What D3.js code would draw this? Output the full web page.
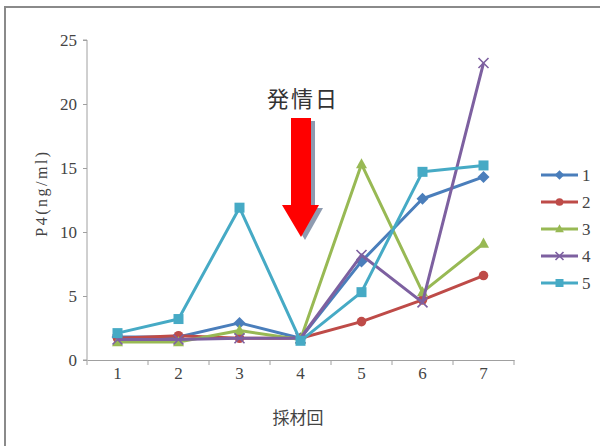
<!DOCTYPE html>
<html><head><meta charset="utf-8">
<script src="https://cdn.jsdelivr.net/npm/d3@7"></script>
<style>body{margin:0;background:#fff}svg{display:block}</style>
</head><body>
<svg id="c" width="600" height="446"></svg>
<script>
const categories = ["1","2","3","4","5","6","7"];
const seriesNames = ["1","2","3","4","5"];
const s1 = [1.8, 1.8, 2.9, 1.7, 7.7, 12.6, 14.3];
const s2 = [1.7, 1.9, 1.7, 1.7, 3.0, 4.7, 6.6];
const s3 = [1.4, 1.4, 2.3, 1.6, 15.3, 5.3, 9.1];
const s4 = [1.6, 1.6, 1.7, 1.7, 8.2, 4.5, 23.2];
const s5 = [2.1, 3.2, 11.9, 1.5, 5.3, 14.7, 15.2];
const yTicks = [0, 5, 10, 15, 20, 25];
const colors = ["#4a7ebb", "#be4b48", "#98b954", "#7d60a0", "#46aac5"];
const markers = ["diamond", "circle", "triangle", "x", "square"];
const allSeries = [s1, s2, s3, s4, s5];

const svg = d3.select("#c");
const serif = "'Liberation Serif','DejaVu Serif',serif";
const cjk = "'Noto Sans CJK JP','Noto Sans',sans-serif";

// frame
svg.append("rect").attr("x",5).attr("y",7).attr("width",620).attr("height",460)
  .attr("fill","none").attr("stroke","#8a8a8a").attr("stroke-width",2);

const x = d3.scaleBand().domain(categories).range([87, 514]);
const y = d3.scaleLinear().domain([0, 25]).range([360, 40]);

// y axis
const ya = svg.append("g").attr("transform","translate(87,0)")
  .call(d3.axisLeft(y).tickValues(yTicks).tickSize(4).tickPadding(6));
ya.select(".domain").attr("stroke","#a0a0a0").attr("d","M-4,40H0V360H-4");
ya.selectAll(".tick line").attr("stroke","#a0a0a0");
ya.selectAll(".tick text").attr("font-family",serif).attr("font-size",17).attr("fill","#444");

// x axis
const xa = svg.append("g").attr("transform","translate(0,360)")
  .call(d3.axisBottom(x).tickSize(0).tickPadding(10));
xa.select(".domain").attr("stroke","#a0a0a0");
xa.selectAll(".tick text").attr("font-family",serif).attr("font-size",17).attr("fill","#444").attr("dy","0.55em");
xa.selectAll(".sep").data(categories.concat(["end"])).enter().append("line")
  .attr("x1",(d,i)=>87+i*x.bandwidth()).attr("x2",(d,i)=>87+i*x.bandwidth())
  .attr("y1",0).attr("y2",5).attr("stroke","#a0a0a0");

// axis titles
svg.append("text").attr("transform","translate(47,193) rotate(-90)")
  .attr("text-anchor","middle").attr("font-family",serif).attr("font-size",16)
  .attr("letter-spacing",2.5).attr("fill","#444")
  .text("P4(ng/ml)");
svg.append("text").attr("x",298).attr("y",424).attr("text-anchor","middle")
  .attr("font-family",cjk).attr("font-size",17).attr("fill","#444").text("採材回");

// arrow annotation
svg.append("text").attr("x",303).attr("y",107).attr("text-anchor","middle")
  .attr("font-family",cjk).attr("font-size",22).attr("letter-spacing",2).attr("fill","#333").text("発情日");
const arrowPath = "M291,118 H311 V205 H319 L301,237 L282,205 H291 Z";
svg.append("path").attr("d",arrowPath).attr("fill","#8e9bb0").attr("transform","translate(4,3)");
svg.append("path").attr("d",arrowPath).attr("fill","#ff0000");

function marker(g, type, cx, cy, color, s) {
  if (type === "diamond") {
    g.append("path").attr("d",`M${cx},${cy-s*0.6}L${cx+s*0.6},${cy}L${cx},${cy+s*0.6}L${cx-s*0.6},${cy}Z`).attr("fill",color);
  } else if (type === "circle") {
    g.append("circle").attr("cx",cx).attr("cy",cy).attr("r",s*0.48).attr("fill",color);
  } else if (type === "triangle") {
    g.append("path").attr("d",`M${cx},${cy-s*0.6}L${cx+s*0.55},${cy+s*0.42}L${cx-s*0.55},${cy+s*0.42}Z`).attr("fill",color);
  } else if (type === "x") {
    const r = s*0.5;
    g.append("path").attr("d",`M${cx-r},${cy-r}L${cx+r},${cy+r}M${cx-r},${cy+r}L${cx+r},${cy-r}`).attr("stroke",color).attr("stroke-width",1.6);
  } else if (type === "square") {
    g.append("rect").attr("x",cx-s*0.5).attr("y",cy-s*0.5).attr("width",s).attr("height",s).attr("fill",color);
  }
}

const line = d3.line().x((d,i)=>x(categories[i]) + x.bandwidth()/2).y(d=>y(d));
allSeries.forEach((vals, k) => {
  const g = svg.append("g");
  g.append("path").attr("d", line(vals)).attr("fill","none").attr("stroke",colors[k])
    .attr("stroke-width",3).attr("stroke-linejoin","round");
  vals.forEach((v,i)=> marker(g, markers[k], x(categories[i]) + x.bandwidth()/2, y(v), colors[k], 10));
});

// legend
const lg = svg.append("g");
seriesNames.forEach((n,k)=>{
  const ly = 175 + k*27;
  lg.append("line").attr("x1",541).attr("x2",578).attr("y1",ly).attr("y2",ly)
    .attr("stroke",colors[k]).attr("stroke-width",3);
  marker(lg, markers[k], 559.5, ly, colors[k], 8);
  lg.append("text").attr("x",582).attr("y",ly).attr("dy","0.35em")
    .attr("font-family",serif).attr("font-size",17).attr("fill","#444").text(n);
});
</script>
</body></html>
